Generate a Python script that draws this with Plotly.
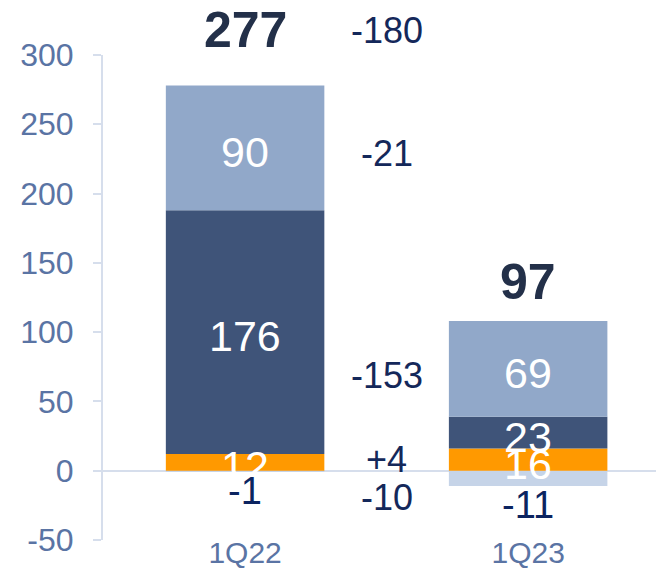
import plotly.graph_objects as go

# data
categories = ["1Q22", "1Q23"]
seg_orange = [12, 16]
seg_dark = [176, 23]
seg_light = [90, 69]
seg_neg = [-1, -11]
totals = [277, 97]
deltas = ["-180", "-21", "-153", "+4", "-10"]
y_ticks = [-50, 0, 50, 100, 150, 200, 250, 300]

# label placement (layout only, data units)
total_label_y = [318, 136]
delta_label_y = [318, 229, 69, 8, -19]

y_min, y_max = -50, 300


def to_paper(v):
    return (v - y_min) / (y_max - y_min)


x = list(range(len(categories)))
bar_w = 0.56

fig = go.Figure()

segments = [
    (seg_neg, "#c6d4e8"),
    (seg_orange, "#ff9900"),
    (seg_dark, "#3f5479"),
    (seg_light, "#91a8c9"),
]
for vals, col in segments:
    fig.add_trace(go.Bar(
        x=x, y=vals, width=bar_w,
        marker=dict(color=col, line=dict(width=0)),
        hoverinfo="skip", showlegend=False
    ))

annotations = []
font_main = "Arial, Liberation Sans, sans-serif"

for i in x:
    # segment value labels
    base = 0
    for vals in [seg_orange, seg_dark, seg_light]:
        v = vals[i]
        annotations.append(dict(
            x=i, y=base + v / 2, text=str(v), showarrow=False, yshift=-4,
            font=dict(size=43, color="white", family=font_main)
        ))
        base += v
    # negative labels below zero
    annotations.append(dict(
        x=i, y=seg_neg[i], text=str(seg_neg[i]), showarrow=False, yanchor="top",
        yshift=4, font=dict(size=38, color="#0b2460", family=font_main)
    ))
    # totals
    annotations.append(dict(
        x=i, y=to_paper(total_label_y[i]), yref="paper", yanchor="middle",
        text="<b>%d</b>" % totals[i], showarrow=False,
        font=dict(size=50, color="#233049", family=font_main)
    ))

# change labels between the bars
for d, yy in zip(deltas, delta_label_y):
    annotations.append(dict(
        x=0.5, y=to_paper(yy), yref="paper", yanchor="middle", text=d,
        showarrow=False, font=dict(size=36, color="#14285a", family=font_main)
    ))

# page body has an 8px margin, so the figure is 8px smaller
fig.update_layout(
    barmode="relative",
    width=656, height=561,
    margin=dict(l=95, r=0, t=47, b=21),
    paper_bgcolor="white", plot_bgcolor="white",
    annotations=annotations,
    xaxis=dict(
        tickvals=x, ticktext=categories, range=[-0.502, 1.48],
        showgrid=False, showline=False, zeroline=False, ticks="",
        ticklabelstandoff=-8,
        tickfont=dict(size=30, color="#5a74a4", family=font_main)
    ),
    yaxis=dict(
        range=[y_min, y_max], tickvals=y_ticks, ticktext=[str(t) for t in y_ticks],
        showgrid=False, showline=True, linecolor="#d6deec", linewidth=2,
        ticks="outside", ticklen=8, tickcolor="#d6deec", tickwidth=2,
        ticklabelstandoff=13,
        zeroline=True, zerolinecolor="#d6deec", zerolinewidth=2,
        tickfont=dict(size=32, color="#5a74a4", family=font_main)
    ),
)

fig.write_html("out.html")
